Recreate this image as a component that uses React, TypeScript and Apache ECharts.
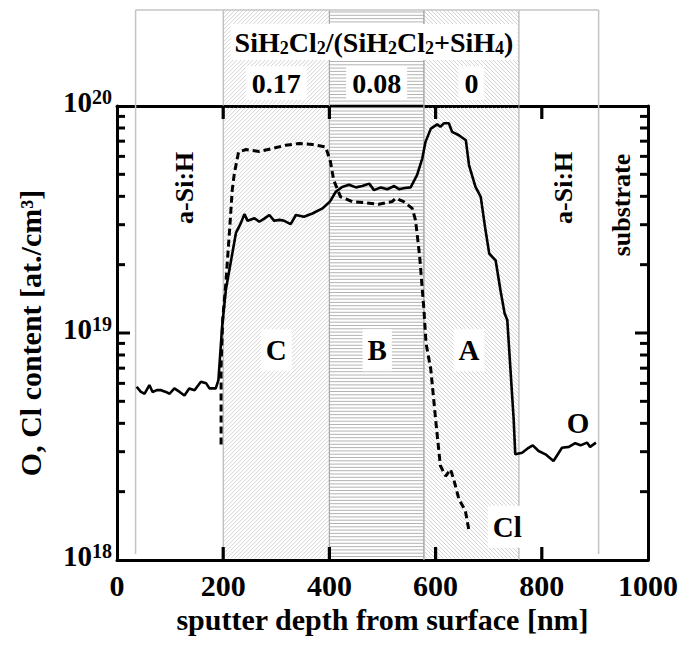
import React, { useEffect, useRef } from 'react';
import * as echarts from 'echarts';

const FONT = '"Liberation Serif", "Times New Roman", Times, serif';

// ---- data ----
const O_DEPTH = [37, 45, 52, 61, 67, 75, 83, 92, 99, 108, 118, 127, 136, 146, 158, 168, 174, 186, 191, 198, 205, 215, 224, 233, 240, 246, 259, 268, 278, 287, 296, 306, 315, 327, 337, 352, 368, 387, 401, 412, 424, 437, 450, 462, 475, 484, 497, 509, 522, 531, 542, 553, 565, 575, 581, 591, 603, 609, 616, 625, 631, 644, 657, 663, 675, 685, 693, 701, 713, 722, 730, 735, 741, 747, 750, 763, 775, 783, 794, 807, 822, 832, 838, 851, 863, 873, 885, 891, 902];
const O_CONTENT = [5.8e18, 5.5e18, 5.4e18, 5.9e18, 5.5e18, 5.6e18, 5.6e18, 5.5e18, 5.4e18, 5.7e18, 5.5e18, 5.3e18, 5.7e18, 5.6e18, 6.1e18, 6.0e18, 5.7e18, 5.7e18, 6.2e18, 1.07e19, 1.55e19, 2.1e19, 2.76e19, 3.04e19, 3.34e19, 3.12e19, 3.2e19, 3.09e19, 3.2e19, 3.31e19, 3.12e19, 3.15e19, 3.12e19, 3.02e19, 3.31e19, 3.25e19, 3.36e19, 3.54e19, 3.79e19, 4.19e19, 4.4e19, 4.5e19, 4.38e19, 4.44e19, 4.55e19, 4.26e19, 4.38e19, 4.3e19, 4.44e19, 4.3e19, 4.35e19, 4.38e19, 4.96e19, 5.88e19, 6.95e19, 7.95e19, 8.3e19, 8.1e19, 8.4e19, 8.4e19, 7.69e19, 7.43e19, 7.06e19, 5.48e19, 4.41e19, 3.98e19, 2.94e19, 2.24e19, 2.09e19, 1.55e19, 1.22e19, 1.14e19, 6.9e18, 4.17e18, 2.92e18, 2.97e18, 3.12e18, 3.2e18, 3.02e18, 2.92e18, 2.73e18, 2.97e18, 3.12e18, 3.15e18, 3.27e18, 3.2e18, 3.29e18, 3.15e18, 3.29e18];

const CL_DEPTH = [196, 196, 199, 205, 212, 217, 221, 229, 243, 268, 293, 318, 343, 368, 393, 402, 408, 421, 443, 468, 493, 518, 525, 540, 556, 562, 565, 570, 574, 578, 582, 591, 600, 609, 619, 628, 634, 644, 656, 663];
const CL_CONTENT = [3.23e18, 7.13e18, 1.14e19, 1.66e19, 2.84e19, 4.26e19, 5.05e19, 6.28e19, 6.43e19, 6.31e19, 6.5e19, 6.72e19, 6.84e19, 6.77e19, 6.6e19, 5.68e19, 4.72e19, 3.98e19, 3.79e19, 3.75e19, 3.69e19, 3.79e19, 3.92e19, 3.79e19, 3.54e19, 3.15e19, 2.76e19, 2.17e19, 1.66e19, 1.27e19, 9.0e18, 6.9e18, 4.17e18, 2.6e18, 2.34e18, 2.51e18, 2.27e18, 1.85e18, 1.65e18, 1.34e18];

const REGION_START = [200, 400, 578];
const REGION_END = [400, 578, 757];
const REGION_HATCH = ['slash', 'horizontal', 'backslash'];
const REGION_RATIOS = ['0.17', '0.08', '0'];
const OUTER_BOUNDS = [35, 907];

const X_MIN = 0;
const X_MAX = 1000;
const X_INTERVAL = 200;
const X_TICKS = [200, 400, 600, 800];
const Y_MIN = 1e18;
const Y_MAX = 1e20;
const Y_MAJOR = [1e19];
const MINOR_TICKS = [2e18, 3e18, 4e18, 5e18, 6e18, 7e18, 8e18, 9e18, 2e19, 3e19, 4e19, 5e19, 6e19, 7e19, 8e19, 9e19];

const NOTE_TEXT = ['C', 'B', 'A', 'O', 'Cl'];
const NOTE_DEPTH = [300, 490, 663, 868, 735];
const NOTE_VALUE = [8.4e18, 8.4e18, 8.4e18, 4.0e18, 1.4e18];
const NOTE_BOX = [true, true, true, false, true];

const LAYER_TEXT = ['a-Si:H', 'a-Si:H', 'substrate'];
const LAYER_DEPTH = [128, 840, 951];
const LAYER_VALUE = [4.36e19, 4.36e19, 3.66e19];

const TITLE = 'SiH{s|2}Cl{s|2}/(SiH{s|2}Cl{s|2}+SiH{s|4})';
const Y_NAME = 'O, Cl content [at./cm³]';
const X_NAME = 'sputter depth from surface [nm]';

// ---- layout ----
const HEADER_TOP = 10;
const RATIO_Y = 83;
const TITLE_X = 374;
const TITLE_Y = 42;
const MAJOR_LEN = 13;
const MINOR_LEN = 8;
const TICK_COLOR = '#000';

const seg = (x1: number, y1: number, x2: number, y2: number, stroke: string, lineWidth: number) => ({
  type: 'line',
  silent: true,
  shape: { x1, y1, x2, y2 },
  style: { stroke, lineWidth, fill: null },
});

const box = (x: number, y: number, width: number, height: number, fill: string) => ({
  type: 'rect',
  silent: true,
  shape: { x, y, width, height },
  style: { fill },
});

// hatch segments of one kind inside the band [x1,x2] x [yT,yB]
const hatch = (kind: string, x1: number, x2: number, yT: number, yB: number, out: any[]) => {
  if (kind === 'horizontal') {
    const step = 3.3;
    for (let y = HEADER_TOP + 2; y < yB; y += step) {
      if (y >= yT) out.push(seg(x1, y, x2, y, '#aaaaaa', 0.9));
    }
  } else if (kind === 'slash') {
    const step = 4;
    for (let c = x1 + HEADER_TOP; c <= x2 + yB; c += step) {
      const xa = Math.max(x1, c - yB);
      const xb = Math.min(x2, c - yT);
      if (xb > xa) out.push(seg(xa, c - xa, xb, c - xb, '#c6c6c6', 0.8));
    }
  } else {
    const step = 4;
    for (let c = HEADER_TOP - x2; c <= yB - x1; c += step) {
      const xa = Math.max(x1, yT - c);
      const xb = Math.min(x2, yB - c);
      if (xb > xa) out.push(seg(xa, xa + c, xb, xb + c, '#c6c6c6', 0.8));
    }
  }
};

const renderRegion = (params: any, api: any) => {
  const i = params.dataIndex;
  const s = api.value(0);
  const e = api.value(1);
  const top = api.coord([s, Y_MAX]);
  const x1 = top[0];
  const gTop = top[1];
  const x2 = api.coord([e, Y_MAX])[0];
  const yB = api.coord([s, Y_MIN])[1];
  const kind = REGION_HATCH[i];
  const children: any[] = [];
  hatch(kind, x1, x2, HEADER_TOP, gTop - 1.6, children);
  hatch(kind, x1, x2, gTop + 1.6, yB - 1.6, children);
  children.push(seg(x1, HEADER_TOP, x1, yB, '#a8a8a8', 1));
  children.push(seg(x2, HEADER_TOP, x2, yB, '#a8a8a8', 1));
  children.push({
    type: 'text',
    silent: true,
    x: (x1 + x2) / 2,
    y: RATIO_Y,
    z2: 10,
    style: {
      text: REGION_RATIOS[i],
      fontSize: 28,
      fontWeight: 'bold',
      fontFamily: FONT,
      fill: '#000',
      align: 'center',
      verticalAlign: 'middle',
      lineHeight: 30,
      backgroundColor: '#fff',
      padding: [2, 6],
    },
  });
  return { type: 'group', children };
};

const renderOuter = (params: any, api: any) => {
  const a = api.value(0);
  const b = api.value(1);
  const xa = api.coord([a, Y_MAX])[0];
  const xb = api.coord([b, Y_MAX])[0];
  const yB = api.coord([a, Y_MIN])[1];
  return {
    type: 'group',
    children: [
      seg(xa, HEADER_TOP, xa, yB - 6, '#c4c4c4', 1.5),
      seg(xb, HEADER_TOP, xb, yB - 6, '#c4c4c4', 1.5),
      seg(xa, HEADER_TOP, xb, HEADER_TOP, '#c4c4c4', 1.5),
    ],
  };
};

const renderYTick = (params: any, api: any) => {
  const v = api.value(1);
  const len = params.dataIndex < Y_MAJOR.length ? MAJOR_LEN : MINOR_LEN;
  const p = api.coord([X_MIN, v]);
  const q = api.coord([X_MAX, v]);
  return {
    type: 'group',
    children: [
      box(p[0], p[1] - 1.5, len, 3, TICK_COLOR),
      box(q[0] - len, q[1] - 1.5, len, 3, TICK_COLOR),
    ],
  };
};

const renderXTick = (params: any, api: any) => {
  const x = api.value(0);
  const p = api.coord([x, Y_MIN]);
  const q = api.coord([x, Y_MAX]);
  return {
    type: 'group',
    children: [
      box(p[0] - 1.6, p[1] - MAJOR_LEN, 3.2, MAJOR_LEN, TICK_COLOR),
      box(q[0] - 1.6, q[1], 3.2, MAJOR_LEN, TICK_COLOR),
    ],
  };
};

const renderNote = (params: any, api: any) => {
  const i = params.dataIndex;
  const p = api.coord([api.value(0), api.value(1)]);
  return {
    type: 'text',
    silent: true,
    x: p[0],
    y: p[1],
    style: {
      text: NOTE_TEXT[i],
      fontSize: 29,
      fontWeight: 'bold',
      fontFamily: FONT,
      fill: '#000',
      align: 'center',
      verticalAlign: 'middle',
      lineHeight: 30,
      backgroundColor: NOTE_BOX[i] ? '#fff' : 'transparent',
      padding: [6, 5],
    },
  };
};

const renderLayer = (params: any, api: any) => {
  const i = params.dataIndex;
  const p = api.coord([api.value(0), api.value(1)]);
  return {
    type: 'text',
    silent: true,
    x: p[0],
    y: p[1],
    rotation: Math.PI / 2,
    style: {
      text: LAYER_TEXT[i],
      fontSize: 26,
      fontWeight: 'bold',
      fontFamily: FONT,
      fill: '#000',
      align: 'center',
      verticalAlign: 'middle',
    },
  };
};

const axisLineStyle = { show: true, onZero: false, lineStyle: { color: '#000', width: 3 } };
const noTick = { show: false };

export default function App() {
  const ref = useRef<HTMLDivElement>(null);
  useEffect(() => {
    if (!ref.current) return;
    const chart = echarts.init(ref.current, undefined, { renderer: 'svg' });
    const option: any = {
      animation: false,
      backgroundColor: '#fff',
      grid: { left: 117, top: 106, right: 32, bottom: 88, containLabel: false, outerBoundsMode: 'none' },
      xAxis: [
        {
          type: 'value',
          min: X_MIN,
          max: X_MAX,
          interval: X_INTERVAL,
          position: 'bottom',
          axisLine: axisLineStyle,
          axisTick: noTick,
          splitLine: { show: false },
          axisLabel: {
            fontSize: 30,
            fontWeight: 'bold',
            fontFamily: FONT,
            color: '#000',
            margin: 10,
            formatter: (v: number) => String(v),
          },
          name: X_NAME,
          nameLocation: 'middle',
          nameGap: 28,
          nameTextStyle: { fontSize: 30, fontWeight: 'bold', fontFamily: FONT, color: '#000' },
        },
        {
          type: 'value',
          min: X_MIN,
          max: X_MAX,
          interval: X_INTERVAL,
          position: 'top',
          axisLine: axisLineStyle,
          axisTick: noTick,
          splitLine: { show: false },
          axisLabel: { show: false },
        },
      ],
      yAxis: [
        {
          type: 'log',
          logBase: 10,
          min: Y_MIN,
          max: Y_MAX,
          position: 'left',
          axisLine: axisLineStyle,
          axisTick: noTick,
          splitLine: { show: false },
          axisLabel: {
            margin: 5,
            padding: [0, 0, 8, 0],
            formatter: (v: number) => `{b|10}{s|${Math.round(Math.log10(v))}}`,
            rich: {
              b: { fontSize: 29, fontWeight: 'bold', fontFamily: FONT, color: '#000', lineHeight: 30 },
              s: { fontSize: 20, fontWeight: 'bold', fontFamily: FONT, color: '#000', lineHeight: 20, verticalAlign: 'top' },
            },
          },
          name: Y_NAME,
          nameLocation: 'middle',
          nameGap: 72,
          nameRotate: 90,
          nameTextStyle: { fontSize: 30, fontWeight: 'bold', fontFamily: FONT, color: '#000' },
        },
        {
          type: 'log',
          logBase: 10,
          min: Y_MIN,
          max: Y_MAX,
          position: 'right',
          axisLine: axisLineStyle,
          axisTick: noTick,
          splitLine: { show: false },
          axisLabel: { show: false },
        },
      ],
      graphic: [
        {
          type: 'text',
          x: TITLE_X,
          y: TITLE_Y,
          z: 20,
          silent: true,
          style: {
            text: TITLE,
            fontSize: 28,
            fontWeight: 'bold',
            fontFamily: FONT,
            fill: '#000',
            lineHeight: 30,
            align: 'center',
            verticalAlign: 'middle',
            backgroundColor: '#fff',
            padding: [3, 4],
            rich: {
              s: { fontSize: 18, fontWeight: 'bold', fontFamily: FONT, fill: '#000', lineHeight: 18, verticalAlign: 'bottom' },
            },
          },
        },
      ],
      series: [
        {
          type: 'custom',
          name: 'regions',
          clip: false,
          silent: true,
          z: 1,
          renderItem: renderRegion,
          data: REGION_START.map((s, i) => [s, REGION_END[i]]),
        },
        {
          type: 'custom',
          name: 'outer',
          clip: false,
          silent: true,
          z: 1,
          renderItem: renderOuter,
          data: [[OUTER_BOUNDS[0], OUTER_BOUNDS[1]]],
        },
        {
          type: 'line',
          name: 'O',
          symbol: 'none',
          silent: true,
          z: 3,
          lineStyle: { color: '#000', width: 2.6 },
          data: O_DEPTH.map((x, i) => [x, O_CONTENT[i]]),
        },
        {
          type: 'line',
          name: 'Cl',
          symbol: 'none',
          silent: true,
          z: 3,
          lineStyle: { color: '#000', width: 3, type: [7, 4] },
          data: CL_DEPTH.map((x, i) => [x, CL_CONTENT[i]]),
        },
        {
          type: 'custom',
          name: 'notes',
          clip: false,
          silent: true,
          z: 5,
          renderItem: renderNote,
          data: NOTE_DEPTH.map((x, i) => [x, NOTE_VALUE[i]]),
        },
        {
          type: 'custom',
          name: 'layers',
          clip: false,
          silent: true,
          z: 5,
          renderItem: renderLayer,
          data: LAYER_DEPTH.map((x, i) => [x, LAYER_VALUE[i]]),
        },
        {
          type: 'custom',
          name: 'yTicks',
          clip: false,
          silent: true,
          z: 6,
          renderItem: renderYTick,
          data: [...Y_MAJOR, ...MINOR_TICKS].map((v) => [X_MAX / 2, v]),
        },
        {
          type: 'custom',
          name: 'xTicks',
          clip: false,
          silent: true,
          z: 6,
          renderItem: renderXTick,
          data: X_TICKS.map((x) => [x, 1e19]),
        },
      ],
    };
    chart.setOption(option);
    return () => chart.dispose();
  }, []);
  return <div ref={ref} style={{ position: 'absolute', left: 0, top: 0, width: 680, height: 648 }} />;
}
